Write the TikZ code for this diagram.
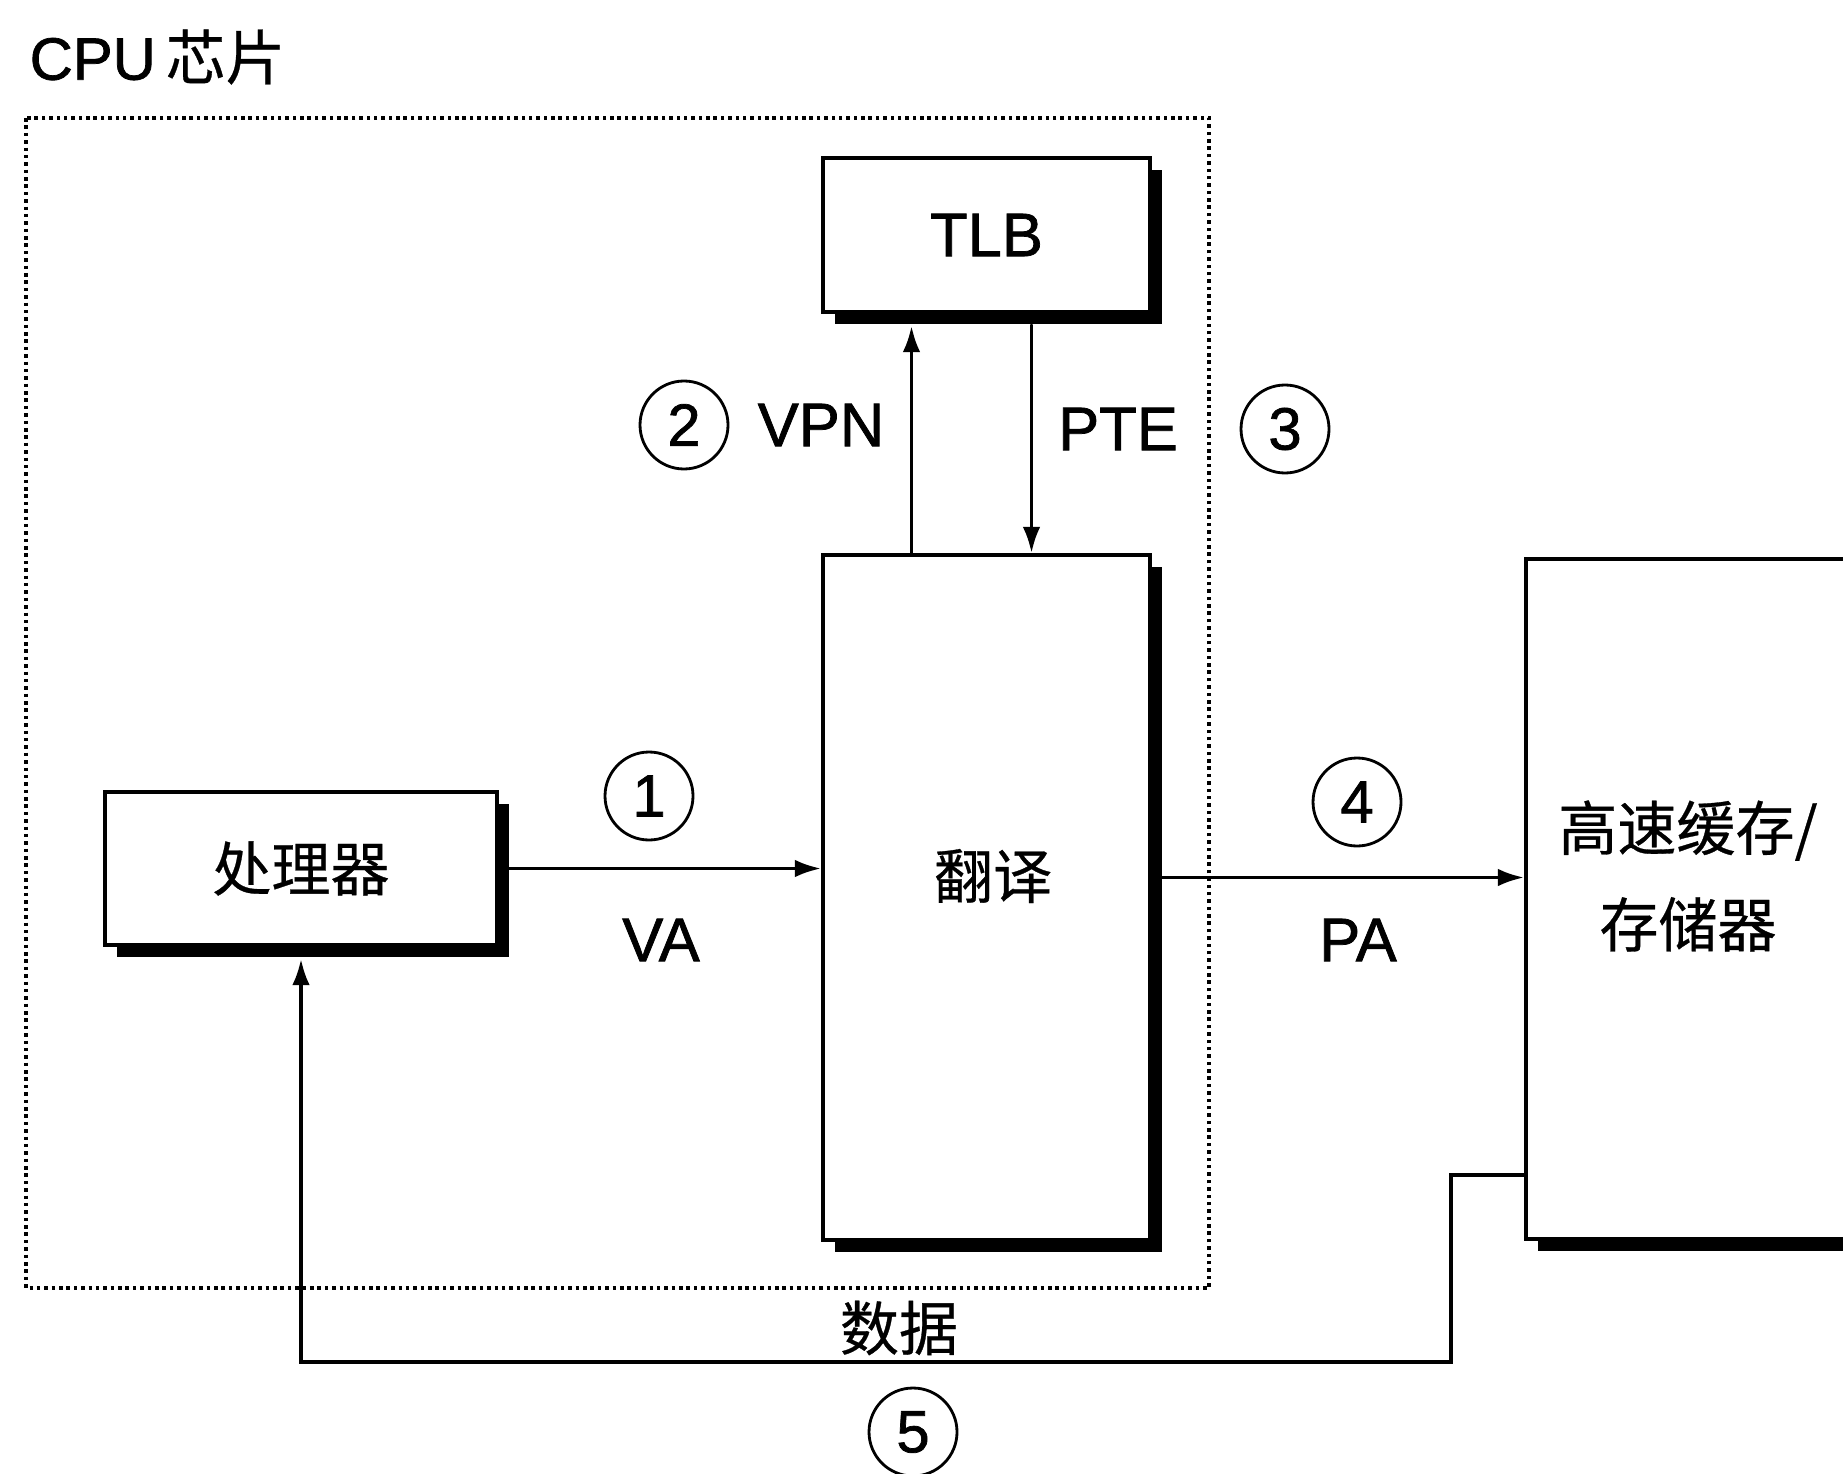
\documentclass[tikz,border=0pt]{standalone}
\usepackage{fontspec}
\setmainfont{Liberation Sans}
\newfontfamily\labfont{Liberation Sans}[FakeBold=1.2]
\newfontfamily\cjk{Noto Sans CJK SC}[FakeBold=0.5]
\usetikzlibrary{arrows.meta,shadows}

\begin{document}
\begin{tikzpicture}[>={Latex[length=7.5pt,width=5pt]},line cap=round,
    box/.style={draw,line width=1pt,fill=white,inner sep=0pt,
      drop shadow={shadow xshift=1.2mm,shadow yshift=-1.2mm,fill=black,opacity=1}},
    flow/.style={->,line width=1.1pt},
    numcircle/.style={draw,circle,line width=0.8pt,minimum size=0.88cm,
      inner sep=0pt,font=\labfont\fontsize{17}{20}\selectfont},
    lab/.style={inner sep=0pt,font=\labfont\fontsize{17.5}{20}\selectfont},
    cjklab/.style={inner sep=0pt,font=\cjk\fontsize{16.8}{27.5}\selectfont}]
  \fill[white] (0,0) rectangle (18.43,-14.73);
  \useasboundingbox (0,0) rectangle (18.43,-14.73);
  \clip (0,0) rectangle (18.43,-14.73);
  % chip outline
  \node[lab,anchor=west,font=\labfont\fontsize{17}{20}\selectfont] (chip)
    at (0.29,-0.57) {CPU\,{\cjk 芯片}};
  \draw[line width=1.4pt,line cap=butt,dash pattern=on 1pt off 1.1pt]
    (0.26,-1.18) rectangle (12.09,-12.88);
  % units
  \node[box,lab,minimum width=3.27cm,minimum height=1.54cm] (tlb) at (9.865,-2.35) {TLB};
  \node[box,minimum width=3.27cm,minimum height=6.85cm] (trans) at (9.865,-8.975) {};
  \node[cjklab] (transtxt) at (9.93,-8.76) {翻译};
  \node[box,cjklab,minimum width=3.92cm,minimum height=1.53cm] (proc) at (3.01,-8.685) {处理器};
  \node[box,minimum width=4.6cm,minimum height=6.8cm] (mem) at (17.56,-8.99) {};
  \node[cjklab,align=center] (memtxt) at (16.88,-8.76) {高速缓存/\\存储器};
  % connectors
  \draw[flow] (proc.east) -- (proc.east -| trans.west);
  \draw[flow] ([xshift=-7.5mm]trans.north) -- ([xshift=-7.5mm,yshift=-1.2mm]tlb.south);
  \draw[flow] ([xshift=4.5mm,yshift=-1.2mm]tlb.south) -- ([xshift=4.5mm]trans.north);
  \draw[flow] ([yshift=2mm]trans.east) -- ([yshift=2mm]trans.east -| mem.west);
  \coordinate (dbend) at (14.51,-13.62);
  \draw[flow] (mem.west |- 0,-11.75) -| (dbend) -| ([yshift=-1.2mm]proc.south);
  % labels
  \node[lab] (va) at (6.61,-9.40) {VA};
  \node[lab] (pa) at (13.58,-9.40) {PA};
  \node[lab] (vpn) at (8.21,-4.25) {VPN};
  \node[lab] (pte) at (11.18,-4.29) {PTE};
  \node[cjklab] (data) at (8.99,-13.28) {数据};
  \foreach \n/\x/\y in {1/6.49/-7.96, 2/6.84/-4.25, 3/12.85/-4.29,
                        4/13.57/-8.02, 5/9.13/-14.32}
    \node[numcircle] (c\n) at (\x,\y) {\n};
\end{tikzpicture}
\end{document}
